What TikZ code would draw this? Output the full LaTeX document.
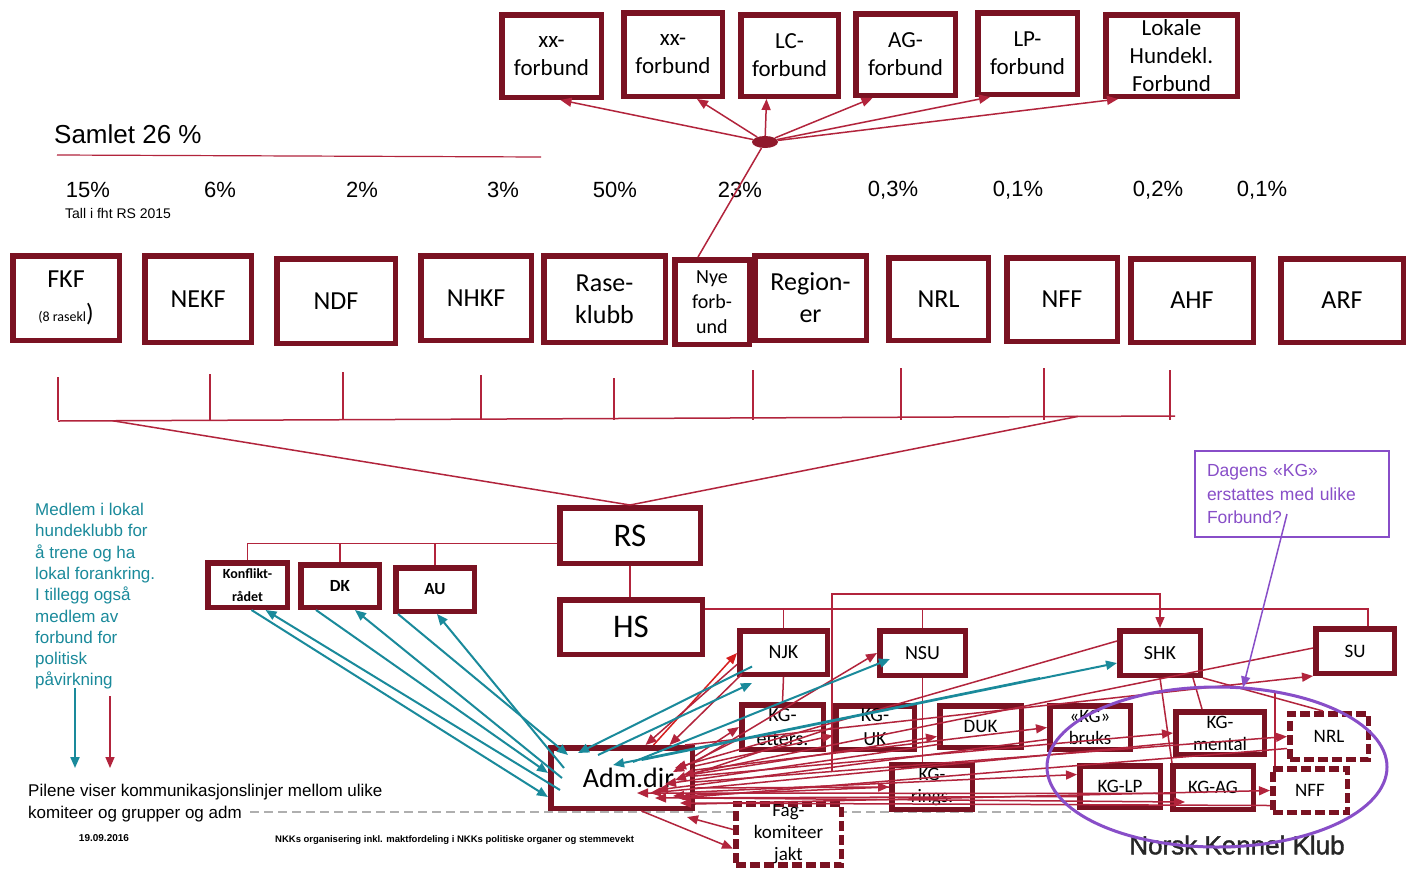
\documentclass[tikz,border=0pt]{standalone}
\usepackage{fontspec}
\setmainfont{Liberation Sans}
\newfontfamily\boxfont{Carlito}
\usetikzlibrary{arrows.meta,shapes.geometric,calc,positioning}
\definecolor{boxred}{RGB}{122,18,34}
\definecolor{linkred}{RGB}{178,36,60}
\definecolor{brightred}{RGB}{214,30,30}
\definecolor{tealline}{RGB}{26,138,155}
\definecolor{kgviolet}{RGB}{136,78,200}
\definecolor{dashgray}{RGB}{175,175,175}
\tikzset{
	orgnode/.style={draw=boxred, line width=5.5pt, fill=white, align=center, inner sep=1pt},
	dashnode/.style={dash pattern=on 10pt off 4pt},
	toprow/.style={font=\boxfont\fontsize{23}{28}\selectfont},
	midrow/.style={font=\boxfont\fontsize{26}{32}\selectfont},
	nyerow/.style={font=\boxfont\fontsize{20}{25}\selectfont},
	bigbox/.style={font=\boxfont\fontsize{33}{36}\selectfont},
	admbox/.style={font=\boxfont\fontsize{28}{32}\selectfont},
	konfbox/.style={font=\boxfont\bfseries\fontsize{14}{23}\selectfont},
	boldbox/.style={font=\boxfont\bfseries\fontsize{17}{20}\selectfont},
	smallbox/.style={font=\boxfont\fontsize{20}{24}\selectfont},
	fagbox/.style={font=\boxfont\fontsize{19}{22}\selectfont},
	pct/.style={font=\fontsize{22}{26}\selectfont, inner sep=0pt},
	link/.style={linkred, line width=1.5pt},
	rarr/.style={link, -{Triangle[length=11pt,width=9pt]}},
	tarr/.style={tealline, line width=2pt, -{Triangle[length=11pt,width=9pt]}},
	hub/.style={ellipse, fill=boxred!60!linkred, minimum width=26pt, minimum height=12pt, inner sep=0pt},
	notebox/.style={draw=kgviolet, line width=1.3pt, text=kgviolet, align=left, text width=170pt, inner xsep=12pt, minimum height=86pt, font=\fontsize{17.5}{23.5}\selectfont},
	kgring/.style={ellipse, draw=kgviolet, line width=3pt, minimum width=340pt, minimum height=160pt},
	guide/.style={dashgray, line width=1.5pt, dash pattern=on 9pt off 5pt}
}
\newcommand{\orgbox}[7][]{
	\node[orgnode, minimum width={#4pt-5.5pt}, minimum height={#5pt-5.5pt}, #1] (#6) at (#2,#3) {#7};
}

\begin{document}
\begin{tikzpicture}[x=1pt, y=-1pt]
	\useasboundingbox (0,0) rectangle (1413,868);
	\fill[white] (0,0) rectangle (1413,868);

	% dashed guide behind the lower boxes
	\coordinate (guideL) at (250,812);
	\coordinate (guideR) at (1075,812);
	\draw[guide] (guideL) -- (guideR);

	% forbund
	\orgbox[toprow]{551.5}{56}{105}{88}{xxa}{xx-\\forbund}
	\orgbox[toprow]{673}{54.5}{104}{89}{xxb}{xx-\\forbund}
	\orgbox[toprow]{789.5}{55.5}{103}{87}{lc}{LC-\\forbund}
	\orgbox[toprow]{905.5}{54.5}{105}{87}{ag}{AG-\\forbund}
	\orgbox[toprow]{1027.5}{53.5}{105}{87}{lp}{LP-\\forbund}
	\orgbox[toprow]{1171.5}{55.5}{137}{87}{lok}{Lokale\\Hundekl.\\Forbund}

	\node[hub] (hub) at (765,142) {};
	\draw[rarr] (hub) -- ($(xxa.south)+(9,0)$);
	\draw[rarr] (hub) -- ($(xxb.south)+(24,0)$);
	\draw[rarr] (hub) -- ($(lc.south)+(-23,0)$);
	\draw[rarr] (hub) -- ($(ag.south)+(-33,0)$);
	\draw[rarr] (hub) -- ($(lp.south west)+(15,0)$);
	\draw[rarr] (hub) -- ($(lok.south west)+(15,0)$);

	% vekt
	\node[anchor=base west, font=\fontsize{26}{30}\selectfont, inner sep=0pt] (samlet) at (54,143) {Samlet 26 \%};
	\coordinate (rule) at (57,155);
	\draw[link, line width=1.2pt] (rule) -- ++(484,2);
	\foreach \x/\p [count=\i] in {88/15\%, 220/6\%, 362/2\%, 503/3\%, 615/50\%, 740/23\%, 893/{0,3\%}, 1018/{0,1\%}, 1158/{0,2\%}, 1262/{0,1\%}}
		\node[pct] (p\i) at (\x,190) {\p};
	\node[anchor=west, font=\fontsize{14}{16}\selectfont, inner sep=0pt] (tall) at (65,213) {Tall i fht RS 2015};

	% medlemsorganisasjoner
	\orgbox[midrow]{66}{298}{112}{90}{fkf}{FKF\\[2pt]{\fontsize{14}{16}\selectfont(8 rasekl}{\fontsize{25}{25}\selectfont)}}
	\orgbox[midrow]{198}{299}{112}{92}{nekf}{NEKF}
	\orgbox[midrow]{336}{301}{124}{90}{ndf}{NDF}
	\orgbox[midrow]{476}{298}{116}{90}{nhkf}{NHKF}
	\orgbox[midrow]{604.5}{299}{127}{92}{rase}{Rase-\\klubb}
	\orgbox[midrow]{810.5}{298}{117}{90}{region}{Region-\\er}
	\orgbox[nyerow]{712}{302}{80}{90}{nye}{Nye\\forb-\\und}
	\orgbox[midrow]{938.5}{299}{105}{88}{nrl}{NRL}
	\orgbox[midrow]{1062}{299.5}{116}{89}{nff}{NFF}
	\orgbox[midrow]{1192}{300.5}{128}{89}{ahf}{AHF}
	\orgbox[midrow]{1342}{300.5}{128}{89}{arf}{ARF}
	\draw[link] (hub) -- ($(nye.north)+(-14,0)$);

	% samlebrakett
	\foreach \x/\t in {58/377, 210/374, 343/372, 481/375, 614/378, 753/370, 901/368, 1044/368, 1170/370}
		\draw[link] (\x,\t) -- (\x,420);
	\coordinate (barL) at (58,421);
	\coordinate (barR) at (1175,416);
	\draw[link] (barL) -- (barR);

	% RS og HS
	\orgbox[bigbox]{630}{535.5}{146}{61}{rs}{RS}
	\orgbox[bigbox]{631}{627}{148}{60}{hs}{HS}
	\draw[link] ($(barL)!0.049!(barR)$) -- (rs.north);
	\draw[link] ($(barL)!0.913!(barR)$) -- (rs.north);
	\draw[link] (rs.south) -- (rs.south |- hs.north);

	\orgbox[konfbox]{247.5}{585}{85}{50}{konf}{Konflikt-\\rådet}
	\orgbox[boldbox]{340}{586}{84}{48}{dk}{DK}
	\orgbox[boldbox]{435}{589.5}{84}{49}{au}{AU}
	\coordinate (rsl) at ($(rs.west)+(0,8)$);
	\draw[link] (rsl) -| (konf.north);
	\draw[link] (dk.north) -- (dk.north |- rsl);
	\draw[link] (au.north) -- (au.north |- rsl);

	% administrasjon og komiteer
	\orgbox[admbox]{621.5}{778}{147}{66}{adm}{\hspace*{14pt}Adm.dir}
	\orgbox[smallbox]{783.5}{652.5}{93}{49}{njk}{NJK}
	\orgbox[smallbox]{922.5}{653}{91}{50}{nsu}{NSU}
	\orgbox[smallbox]{782.5}{727}{87}{50}{kgett}{KG-\\etters.}
	\orgbox[smallbox]{875}{727.5}{84}{49}{kguk}{KG-\\UK}
	\orgbox[fagbox]{980.5}{726.5}{87}{47}{duk}{DUK}
	\orgbox[fagbox]{932}{787}{86}{50}{kgr}{KG-\\rings.}
	\orgbox[fagbox, dashnode]{788.5}{834.5}{111}{63}{fag}{Fag-\\komiteer\\jakt}
	\orgbox[smallbox]{1160}{653}{86}{50}{shk}{SHK}
	\orgbox[fagbox]{1355}{651}{84}{50}{su}{SU}
	\orgbox[fagbox]{1090}{727.5}{86}{49}{bruks}{«KG»\\bruks}
	\orgbox[fagbox]{1220}{733}{94}{48}{kgm}{KG-\\mental}
	\orgbox[fagbox, dashnode]{1329}{736.5}{84}{51}{nrltwo}{NRL}
	\orgbox[fagbox]{1120}{786.5}{86}{47}{kglp}{KG-LP}
	\orgbox[fagbox]{1213}{787.5}{86}{49}{kgag}{KG-AG}
	\orgbox[fagbox, dashnode]{1310}{790.5}{80}{49}{nfftwo}{NFF}

	\draw[link] ($(hs.south)+(-10,0)$) -- ($(hs.south)+(-10,0)$ |- adm.north);
	\coordinate (hsr) at ($(hs.east)+(0,-18)$);
	\draw[link] (hsr) -| ($(su.north)+(13,0)$);
	\draw[link] (njk.north) -- (njk.north |- hsr);
	\draw[link] (nsu.north) -- (nsu.north |- hsr);
	\coordinate (split) at (832,594);
	\coordinate (splitfoot) at (832,772);
	\draw[rarr] (splitfoot) -- (split) -| (shk.north);

	\draw[link] (njk.south) -- (kgett.north);
	\draw[link] ($(njk.south west)+(3,0)$) -- ($(njk.south west)+(3,0)$ |- fag.north);
	\draw[link] ($(nsu.south)+(-32,0)$) -- ($(nsu.south)+(-32,0)$ |- kguk.north);
	\draw[link] (nsu.south) -- (nsu.south |- kgr.north);
	\draw[link] ($(nsu.south)+(38,0)$) -- ($(nsu.south)+(38,0)$ |- duk.north);
	\draw[link] ($(shk.south)+(-20,0)$) -- ($(shk.south)+(-20,0)$ |- kglp.north);
	\draw[link] (shk.south) -- ($(kgag.north west)+(2,0)$);
	\draw[link] ($(shk.south east)+(-10,0)$) -- ($(kgm.north)+(-18,0)$);
	\draw[link] (shk.south east) -- ($(nrltwo.north)+(-6,0)$);
	\draw[link] ($(nfftwo.north west)+(5,0)$) -- ++(0,-75);

	% kommunikasjonslinjer fra adm
	\draw[rarr, brightred] ($(adm.north)+(32,0)$) -- ($(njk.south west)+(0,-24)$);
	\draw[rarr] ($(adm.east)+(0,-22)$) -- (kgett.west);
	\draw[rarr] ($(adm.east)+(0,-16)$) -- (nsu.west);
	\draw[rarr] ($(adm.east)+(0,-12)$) -- ($(kguk.west)+(0,8)$);
	\draw[rarr] ($(adm.east)+(0,-8)$) -- (bruks.west);
	\draw[rarr] ($(adm.east)+(0,-4)$) -- ($(duk.west)+(0,10)$);
	\draw[rarr] ($(adm.east)+(0,-2)$) -- (kgm.west);
	\draw[rarr] ($(adm.east)+(0,4)$) -- (nrltwo.west);
	\draw[rarr] ($(adm.east)+(0,10)$) -- (kgr.west);
	\draw[rarr] ($(adm.east)+(0,14)$) -- ($(kglp.west)+(0,-12)$);
	\draw[rarr] ($(adm.east)+(0,20)$) -- ($(kgag.south west)+(15,-10)$);
	\draw[rarr] ($(adm.east)+(0,26)$) -- (nfftwo.west);
	\draw[rarr] ($(adm.north east)+(-10,0)$) -- (su.south west);
	\draw[rarr] ($(adm.south)+(20,0)$) -- ($(fag.west)+(0,14)$);

	% kommunikasjonslinjer til adm
	\draw[rarr] ($(njk.west)+(0,12)$) -- ($(adm.north)+(24,0)$);
	\draw[rarr] ($(njk.south west)+(5,-3)$) -- ($(adm.north)+(48,0)$);
	\draw[rarr] ($(kgett.west)+(0,12)$) -- ($(adm.east)+(-22,-6)$);
	\draw[rarr] (kguk.west) -- ($(adm.east)+(-20,2)$);
	\draw[rarr] ($(duk.south west)+(4,-6)$) -- ($(adm.east)+(-30,6)$);
	\draw[rarr] (kgr.west) -- ($(adm.east)+(-22,18)$);
	\draw[rarr] ($(shk.west)+(0,-12)$) -- ($(adm.east)+(-20,-10)$);
	\draw[rarr] ($(su.west)+(0,-3)$) -- ($(adm.east)+(-12,-3)$);
	\draw[rarr] ($(bruks.west)+(0,12)$) -- ($(adm.east)+(-38,12)$);
	\draw[rarr] ($(kgm.west)+(0,10)$) -- ($(adm.east)+(-45,15)$);
	\draw[rarr] ($(nrltwo.west)+(0,12)$) -- ($(adm.east)+(-16,20)$);
	\draw[rarr] ($(kglp.west)+(0,10)$) -- ($(adm.east)+(-40,20)$);
	\draw[rarr] ($(kgag.west)+(0,6)$) -- ($(adm.east)+(-58,15)$);
	\draw[rarr] ($(nfftwo.west)+(0,15)$) -- ($(adm.south east)+(-15,-8)$);
	\draw[rarr] ($(fag.west)+(0,-5)$) -- ($(adm.south east)+(-8,6)$);

	% teal linjer
	\draw[tarr] ($(konf.south)+(4,0)$) -- ($(adm.west)+(0,19)$);
	\draw[tarr] ($(adm.west)+(12,12)$) -- ($(konf.south)+(18,0)$);
	\draw[tarr] ($(dk.south west)+(18,0)$) -- ($(adm.west)+(0,-5)$);
	\draw[tarr] ($(adm.west)+(14,0)$) -- ($(dk.south)+(15,0)$);
	\draw[tarr] ($(au.south west)+(5,0)$) -- ($(adm.north west)+(20,10)$);
	\draw[tarr] ($(adm.west)+(16,-10)$) -- ($(au.south)+(2,0)$);
	\draw[tarr] ($(njk.west)+(15,14)$) -- ($(adm.north west)+(30,8)$);
	\draw[tarr] ($(adm.north west)+(50,10)$) -- ($(njk.south west)+(15,6)$);
	\draw[tarr] ($(adm.north west)+(85,17)$) -- ($(nsu.west)+(13,6)$);
	\draw[tarr] ($(shk.south west)+(-77,0)$) -- ($(adm.north west)+(65,20)$);
	\draw[tarr] ($(adm.north)+(20,15)$) -- ($(shk.west)+(0,10)$);

	% forklaring
	\node[anchor=north west, text=tealline, align=left, inner sep=0pt, font=\fontsize{17}{21.3}\selectfont] (member) at (35,503)
		{Medlem i lokal\\hundeklubb for\\å trene og ha\\lokal forankring.\\I tillegg også\\medlem av\\forbund for\\politisk\\påvirkning};
	\coordinate (legT) at (75,688);
	\coordinate (legR) at (110,696);
	\draw[tarr] (legT) -- ++(0,80);
	\draw[rarr] (legR) -- ++(0,72);
	\node[anchor=north west, align=left, inner sep=0pt, font=\fontsize{17}{22}\selectfont] (legend) at (28,784)
		{Pilene viser kommunikasjonslinjer mellom ulike\\komiteer og grupper og adm};
	\node[font=\bfseries\fontsize{10}{12}\selectfont] (date) at (104,838) {19.09.2016};
	\node[anchor=west, inner sep=0pt, font=\bfseries\fontsize{9.5}{11}\selectfont] (footer) at (275,840)
		{NKKs organisering inkl. maktfordeling i NKKs politiske organer og stemmevekt};

	% KG forslag
	\node[notebox] (note) at (1292,494) {Dagens «KG»\\erstattes med ulike\\Forbund?};
	\node[font=\fontsize{26}{30}\selectfont\addfontfeature{FakeBold=1.5}, text=black!85] (nkk) at (1237,845) {Norsk Kennel Klub};
	\node[kgring] (ring) at (1217,767) {};
	\draw[kgviolet, line width=1.5pt, -{Triangle[length=11pt,width=9pt]}] ($(note.center)+(-5,20)$) -- ($(ring.north)+(26,2)$);
\end{tikzpicture}
\end{document}
